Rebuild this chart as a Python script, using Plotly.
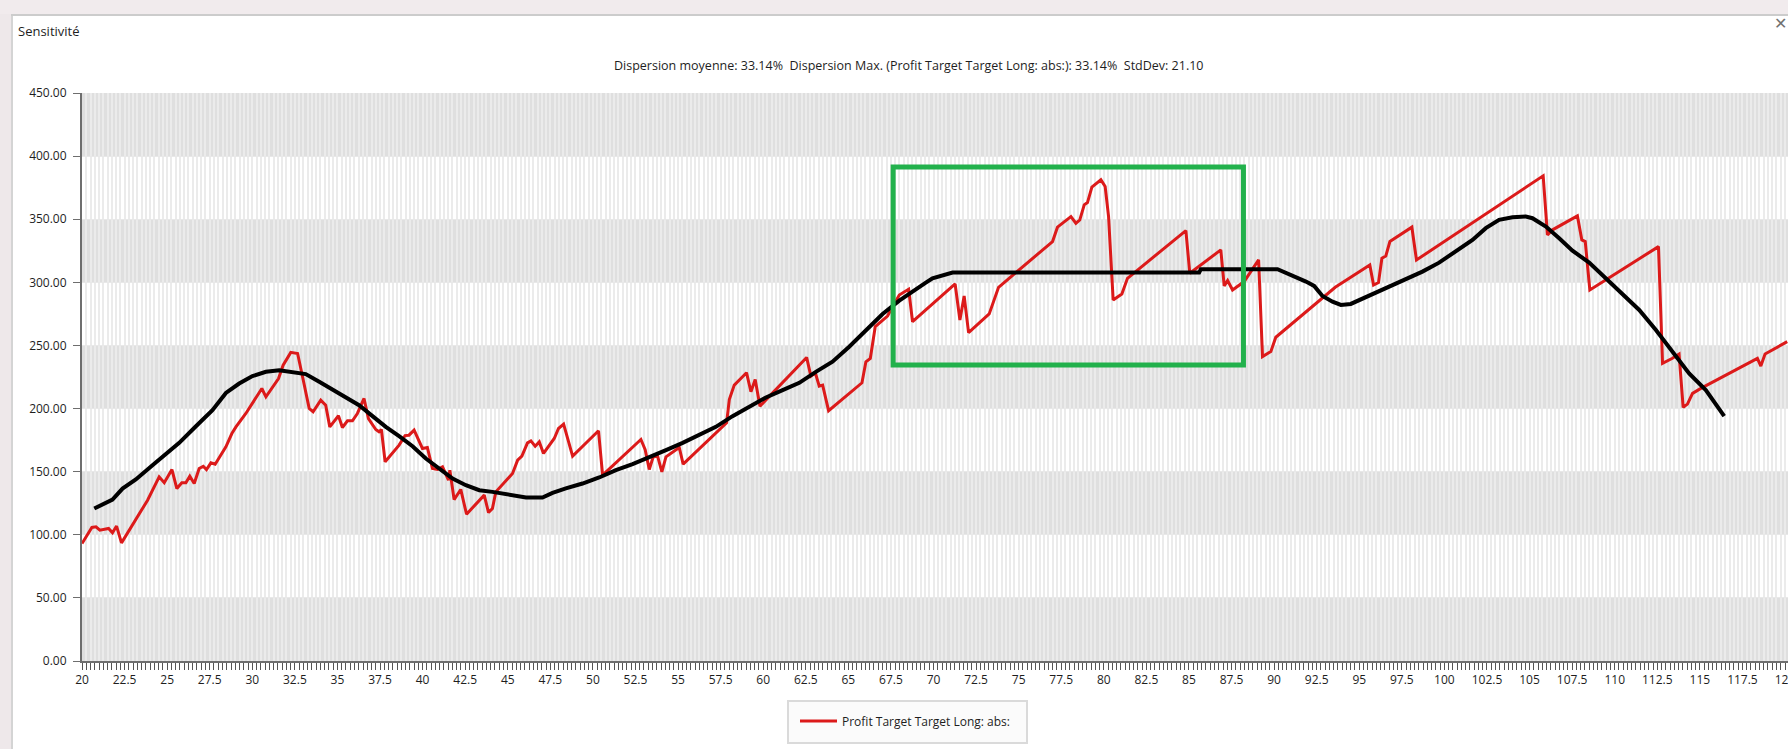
import plotly.graph_objects as go

# ---------------- data ----------------
red_x = [20.0, 20.58, 20.82, 21.05, 21.56, 21.79, 22.03, 22.32, 23.85, 24.53, 24.83, 25.28, 25.57, 25.86,
         26.1, 26.33, 26.59, 26.88, 27.12, 27.31, 27.57, 27.82, 28.45, 28.8, 29.04, 29.62, 30.56, 30.8,
         31.54, 31.81, 32.26, 32.66, 32.91, 33.34, 33.57, 34.02, 34.31, 34.55, 35.06, 35.29, 35.59, 35.88,
         36.17, 36.56, 36.82, 37.25, 37.44, 37.58, 37.8, 38.62, 38.97, 39.2, 39.5, 39.99, 40.28, 40.58,
         40.87, 41.17, 41.52, 41.6, 41.85, 42.24, 42.58, 43.62, 43.87, 44.1, 44.3, 45.28, 45.58, 45.83,
         46.16, 46.36, 46.61, 46.85, 47.1, 47.73, 47.98, 48.28, 48.81, 50.33, 50.57, 52.82, 53.07, 53.31,
         53.54, 53.8, 54.05, 54.29, 55.07, 55.3, 57.85, 58.01, 58.3, 59.02, 59.28, 59.53, 59.81, 62.55,
         62.8, 63.06, 63.29, 63.49, 63.84, 65.8, 66.03, 66.29, 66.58, 67.3, 67.6, 67.99, 68.54, 68.77,
         71.27, 71.55, 71.8, 72.06, 73.27, 73.82, 76.99, 77.28, 78.07, 78.36, 78.59, 78.85, 79.04, 79.3,
         79.83, 80.08, 80.28, 80.55, 81.06, 81.39, 84.82, 85.05, 86.87, 87.07, 87.27, 87.56, 88.24, 89.09,
         89.32, 89.81, 90.1, 93.59, 95.62, 95.84, 96.13, 96.33, 96.56, 96.8, 98.09, 98.36, 105.8, 106.05,
         106.35, 107.81, 108.07, 108.27, 108.54, 112.57, 112.81, 113.39, 113.78, 114.02, 114.27, 114.57,
         115.06, 118.38, 118.58, 118.83, 120.13]
red_y = [93.1, 105.8, 106.3, 103.7, 105.0, 101.6, 106.9, 93.6, 127.4, 145.9, 141.2, 151.7, 136.6, 141.2,
         141.2, 146.4, 140.6, 152.5, 154.3, 151.7, 157.0, 155.9, 169.7, 180.2, 185.5, 196.1, 215.9, 209.3,
         223.8, 234.4, 244.5, 243.6, 227.8, 200.1, 197.4, 206.7, 202.7, 185.5, 194.3, 185.0, 190.3, 190.3,
         196.1, 208.0, 192.1, 183.4, 181.6, 183.4, 157.8, 171.0, 178.6, 178.9, 182.9, 168.4, 169.2, 152.5,
         151.7, 153.8, 143.3, 151.2, 127.9, 135.9, 116.3, 131.4, 117.6, 120.8, 134.0, 148.6, 159.1, 162.3,
         172.8, 174.4, 170.2, 173.6, 164.4, 176.3, 184.2, 187.6, 162.3, 182.4, 147.2, 175.5, 167.5, 151.7,
         161.7, 162.3, 149.9, 161.7, 169.2, 156.0, 188.7, 207.2, 218.6, 228.4, 213.3, 223.1, 201.9, 240.5,
         225.7, 228.4, 217.8, 218.6, 198.3, 220.4, 237.1, 239.8, 264.9, 273.3, 280.7, 290.0, 294.5, 268.8,
         298.7, 270.2, 289.2, 260.2, 275.0, 296.1, 332.3, 343.7, 352.1, 346.8, 349.5, 361.4, 363.2, 375.4,
         381.2, 375.9, 352.1, 286.0, 290.8, 303.2, 341.0, 307.2, 325.7, 297.2, 301.4, 294.0, 300.6, 317.8,
         241.2, 245.2, 256.5, 296.1, 313.8, 297.9, 299.8, 319.1, 320.9, 332.3, 343.7, 317.7, 384.4, 337.6,
         341.6, 352.6, 333.6, 332.3, 294.0, 328.3, 235.8, 239.8, 243.2, 200.9, 203.5, 212.0,
         216.0, 239.8, 233.7, 243.2, 253.0]

black_x = [20.72, 21.3, 21.79, 22.38, 23.16, 24.14, 24.92, 25.71, 26.69, 27.66, 28.45, 29.23, 30.01, 30.8,
           31.58, 32.36, 33.14, 33.93, 34.71, 35.49, 36.27, 37.06, 37.84, 38.62, 39.41, 40.19, 40.97, 41.76,
           42.54, 43.33, 44.1, 45.09, 46.07, 47.04, 47.63, 48.41, 49.39, 50.37, 51.35, 52.33, 53.31, 54.29,
           55.27, 56.24, 57.22, 58.2, 59.18, 60.16, 61.14, 62.12, 63.09, 64.07, 65.05, 66.03, 67.01, 67.99,
           68.97, 69.55, 69.94, 70.53, 71.12, 85.6, 85.7, 90.2, 90.69, 91.28, 91.87, 92.35, 92.84, 93.43,
           93.92, 94.5, 95.0, 95.78, 96.76, 97.73, 98.71, 99.69, 100.67, 101.65, 102.43, 103.21, 104.0,
           104.78, 105.17, 105.96, 106.74, 107.52, 108.5, 109.48, 110.46, 111.44, 112.42, 113.39, 114.37,
           115.35, 115.94, 116.43]
black_y = [120.8, 124.3, 127.9, 136.6, 143.8, 155.1, 163.8, 172.8, 186.0, 198.7, 212.4, 219.8, 225.7, 229.1,
           230.4, 229.1, 227.3, 221.2, 215.1, 209.3, 202.7, 194.0, 185.5, 178.1, 170.2, 160.4, 152.5, 144.6,
           139.3, 135.3, 134.0, 131.4, 129.5, 129.5, 133.2, 136.7, 140.6, 145.4, 151.2, 156.0, 161.2, 167.0,
           172.8, 178.9, 185.5, 194.0, 201.4, 208.8, 214.6, 220.4, 229.1, 237.1, 249.0, 262.2, 274.9, 285.5,
           293.9, 299.8, 303.2, 305.1, 307.7, 307.7, 310.4, 310.4, 307.7, 304.1, 300.6, 297.2, 289.2, 284.7,
           282.1, 282.9, 286.0, 290.8, 296.6, 302.4, 308.5, 315.6, 324.4, 333.6, 342.9, 349.5, 351.6,
           352.2, 350.8, 344.2, 334.9, 325.1, 315.6, 303.2, 291.3, 278.1, 262.2, 245.0, 227.8,
           214.6, 204.0, 194.0]

x_tick_vals = [20, 22.5, 25, 27.5, 30, 32.5, 35, 37.5, 40, 42.5, 45, 47.5, 50, 52.5, 55, 57.5, 60, 62.5,
               65, 67.5, 70, 72.5, 75, 77.5, 80, 82.5, 85, 87.5, 90, 92.5, 95, 97.5, 100, 102.5, 105,
               107.5, 110, 112.5, 115, 117.5, 120]
x_tick_text = ["20", "22.5", "25", "27.5", "30", "32.5", "35", "37.5", "40", "42.5", "45", "47.5", "50",
               "52.5", "55", "57.5", "60", "62.5", "65", "67.5", "70", "72.5", "75", "77.5", "80", "82.5",
               "85", "87.5", "90", "92.5", "95", "97.5", "100", "102.5", "105", "107.5", "110", "112.5",
               "115", "117.5", "120"]
y_tick_vals = [0, 50, 100, 150, 200, 250, 300, 350, 400, 450]

series_name = "Profit Target Target Long: abs:"
window_title = "Sensitivité"
subtitle = "Dispersion moyenne: 33.14%  Dispersion Max. (Profit Target Target Long: abs:): 33.14%  StdDev: 21.10"
highlight_box = dict(x0=67.63, x1=88.2, y0=234.5, y1=391.3)

# ---------------- layout geometry ----------------
W, H = 1788, 749
ML, MR, MT, MB = 82, 0, 93, 88
PW = W - ML - MR
PH = H - MT - MB
PX_PER_UNIT = 17.03
x_range = [20, 20 + PW / PX_PER_UNIT]


def px(xp):
    return (xp - ML) / PW


def py(yp):
    return (H - MB - yp) / PH


FONT = "Open Sans"
TXT = "#1e1e1e"
GRID = "#ebebeb"
BAND = "#dfdfdf"
AXIS = "#6e6e6e"

fig = go.Figure()
fig.add_trace(go.Scatter(x=red_x, y=red_y, mode="lines", name=series_name,
                         line=dict(color="#dc1a1a", width=3), showlegend=True))
fig.add_trace(go.Scatter(x=black_x, y=black_y, mode="lines", name="moyenne",
                         line=dict(color="#000000", width=4), showlegend=False))

shapes = []
# horizontal grey bands
for lo in range(0, 450, 100):
    shapes.append(dict(type="rect", xref="paper", yref="y", x0=0, x1=1, y0=lo, y1=lo + 50,
                       fillcolor=BAND, line=dict(width=0), layer="below"))
# green highlight rectangle
shapes.append(dict(type="rect", xref="x", yref="y", x0=highlight_box["x0"], x1=highlight_box["x1"],
                   y0=highlight_box["y0"], y1=highlight_box["y1"],
                   line=dict(color="#22b14c", width=5), fillcolor="rgba(0,0,0,0)", layer="above"))
# window chrome
shapes.append(dict(type="rect", xref="paper", yref="paper", x0=px(0), x1=px(11), y0=py(H), y1=py(0),
                   fillcolor="#eee8ea", line=dict(width=0), layer="above"))
shapes.append(dict(type="rect", xref="paper", yref="paper", x0=px(0), x1=px(W), y0=py(14), y1=py(0),
                   fillcolor="#f1ebed", line=dict(width=0), layer="above"))
shapes.append(dict(type="line", xref="paper", yref="paper", x0=px(12), x1=px(12), y0=py(H), y1=py(14),
                   line=dict(color="#d4d4d4", width=2), layer="above"))
shapes.append(dict(type="line", xref="paper", yref="paper", x0=px(11), x1=px(W), y0=py(15), y1=py(15),
                   line=dict(color="#cccccc", width=2), layer="above"))
# legend box
shapes.append(dict(type="rect", xref="paper", yref="paper", x0=px(788), x1=px(1027), y0=py(743), y1=py(701),
                   fillcolor="#fbfbfb", line=dict(color="#dadada", width=2), layer="below"))

annotations = [
    dict(text=window_title, xref="paper", yref="paper", x=px(16), y=py(31), xanchor="left", yanchor="middle",
         showarrow=False, font=dict(family=FONT, size=13, color=TXT)),
    dict(text=subtitle, xref="paper", yref="paper", x=px(909), y=py(66), xanchor="center", yanchor="middle",
         showarrow=False, font=dict(family=FONT, size=12.5, color=TXT)),
    dict(text="✕", xref="paper", yref="paper", x=px(1780), y=py(23), xanchor="center", yanchor="middle",
         showarrow=False, font=dict(family="DejaVu Sans", size=16, color="#707070")),
]

fig.update_layout(
    width=W, height=H,
    margin=dict(l=ML, r=MR, t=MT, b=MB, autoexpand=False),
    paper_bgcolor="white", plot_bgcolor="white",
    shapes=shapes, annotations=annotations,
    font=dict(family=FONT, size=12, color=TXT),
    legend=dict(orientation="v", x=px(795), y=py(721), xanchor="left", yanchor="middle",
                itemwidth=37,
                bgcolor="rgba(0,0,0,0)", borderwidth=0, font=dict(family=FONT, size=12, color=TXT)),
    showlegend=True,
)
fig.update_xaxes(
    range=x_range, tickmode="array", tickvals=x_tick_vals, ticktext=x_tick_text,
    ticks="outside", ticklen=7, tickcolor="#555555", tickwidth=1, ticklabeloverflow="allow",
    showgrid=True, gridcolor=GRID, gridwidth=2, zeroline=False,
    showline=True, linecolor=AXIS, linewidth=2,
    minor=dict(dtick=0.25, tick0=20, ticks="outside", ticklen=7, tickcolor="#555555", tickwidth=1,
               showgrid=True, gridcolor=GRID, gridwidth=2),
    tickfont=dict(family=FONT, size=12, color=TXT),
)
fig.update_yaxes(
    range=[0, 450], tickmode="array", tickvals=y_tick_vals, tickformat=".2f",
    ticks="outside", ticklen=7, tickcolor=AXIS, tickwidth=1, ticklabelstandoff=4,
    showgrid=True, gridcolor="#e8e8e8", gridwidth=1, zeroline=False,
    showline=True, linecolor=AXIS, linewidth=2,
    tickfont=dict(family=FONT, size=12, color=TXT),
)

fig.write_html("out.html", config={"displayModeBar": False},
               post_script="document.body.style.margin='0';document.body.style.overflow='hidden';")
